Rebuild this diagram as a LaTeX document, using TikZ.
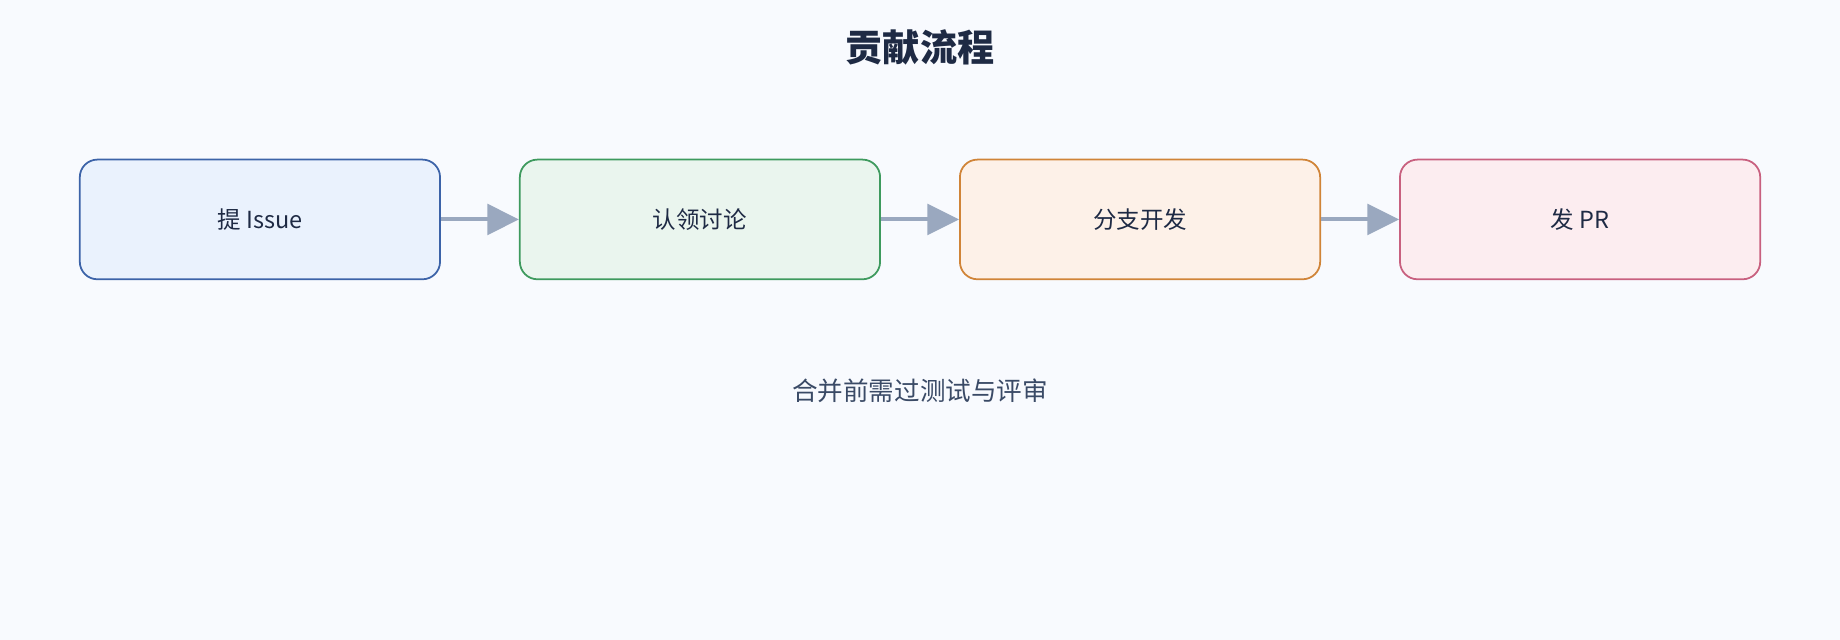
\documentclass[tikz,border=0pt]{standalone}
\usepackage{fontspec}
\setmainfont{Noto Sans CJK SC}
\usetikzlibrary{arrows.meta}
\definecolor{bgc}{HTML}{F8FAFE}
\definecolor{titlec}{HTML}{1E2A44}
\definecolor{arrc}{HTML}{9AA8BF}
\definecolor{footc}{HTML}{3A4A66}
\definecolor{blueline}{HTML}{3C63A8}\definecolor{bluefill}{HTML}{EAF2FD}
\definecolor{greenline}{HTML}{3E9A5E}\definecolor{greenfill}{HTML}{EAF5EE}
\definecolor{orangeline}{HTML}{D08438}\definecolor{orangefill}{HTML}{FDF1E8}
\definecolor{pinkline}{HTML}{C8607F}\definecolor{pinkfill}{HTML}{FCEDF0}
\tikzset{
  step box/.style={draw, rounded corners=0.15cm, line width=0.015cm,
    minimum width=3.07cm, minimum height=1.02cm, font=\fontsize{5.7}{7}\selectfont, text=titlec},
  flow arrow/.style={draw=arrc, line width=0.035cm, -{Triangle[length=0.27cm,width=0.26cm]}}
}
\begin{document}
\begin{tikzpicture}
\fill[bgc] (0,0) rectangle (15.68,5.45);
\useasboundingbox (0,0) rectangle (15.68,5.45);

\node (title) at (7.84,5.05) [text=titlec, font=\fontsize{9}{11}\selectfont\bfseries] {贡献流程};

\node (issue)   at (2.215,3.58) [step box, draw=blueline, fill=bluefill] {提 Issue};
\node (claim)   at (5.965,3.58) [step box, draw=greenline, fill=greenfill] {认领讨论};
\node (branch)  at (9.715,3.58) [step box, draw=orangeline, fill=orangefill] {分支开发};
\node (pr)      at (13.465,3.58) [step box, draw=pinkline, fill=pinkfill] {发 PR};

\draw[flow arrow] (issue) -- (claim);
\draw[flow arrow] (claim) -- (branch);
\draw[flow arrow] (branch) -- (pr);

\node (note) at (7.84,2.12) [text=footc, font=\fontsize{6.2}{8}\selectfont] {合并前需过测试与评审};
\end{tikzpicture}
\end{document}
